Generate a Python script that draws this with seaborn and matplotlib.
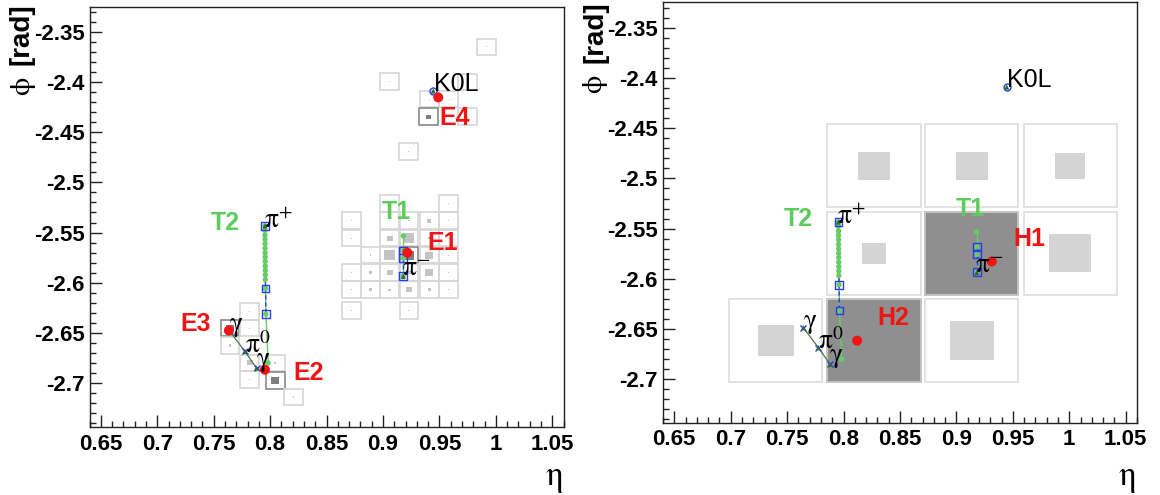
import numpy as np
import pandas as pd
import matplotlib
matplotlib.use("Agg")
import matplotlib.pyplot as plt
from matplotlib.patches import Rectangle
from matplotlib.ticker import MultipleLocator, FuncFormatter
import seaborn as sns

# ---------------- data ----------------
# ECAL cells (left panel): centre eta, centre phi, inner-square side (energy), seed flag
ecal_eta = [0.906, 0.958,
            0.872, 0.906, 0.923, 0.941, 0.958,
            0.872, 0.906, 0.923, 0.941, 0.958,
            0.889, 0.906, 0.923, 0.941, 0.958,
            0.872, 0.889, 0.906, 0.923, 0.941, 0.958,
            0.872, 0.889, 0.906, 0.923, 0.941, 0.958,
            0.872, 0.923,
            0.9916, 0.906, 0.9748, 0.9411, 0.9579, 0.9405, 0.9748, 0.9225,
            0.782, 0.7644, 0.782, 0.7644, 0.782, 0.8045, 0.782, 0.8045, 0.8205]
ecal_phi = [-2.521, -2.521,
            -2.538, -2.538, -2.538, -2.538, -2.538,
            -2.5555, -2.5555, -2.5555, -2.5555, -2.5555,
            -2.5725, -2.5725, -2.5725, -2.5725, -2.5725,
            -2.590, -2.590, -2.590, -2.590, -2.590, -2.590,
            -2.607, -2.607, -2.607, -2.607, -2.607, -2.607,
            -2.628, -2.628,
            -2.365, -2.3997, -2.400, -2.417, -2.417, -2.4346, -2.4346, -2.469,
            -2.6285, -2.6452, -2.6452, -2.6625, -2.680, -2.680, -2.6966, -2.6973, -2.7139]
ecal_e = [0.001, 0.001,
          0.001, 0.001, 0.0014, 0.004, 0.001,
          0.001, 0.005, 0.0095, 0.002, 0.001,
          0.0014, 0.0095, 0.009, 0.007, 0.001,
          0.001, 0.0028, 0.0055, 0.003, 0.007, 0.001,
          0.001, 0.0028, 0.0022, 0.005, 0.0028, 0.001,
          0.001, 0.001,
          0.001, 0.001, 0.001, 0.001, 0.001, 0.0038, 0.001, 0.001,
          0.001, 0.0065, 0.001, 0.0022, 0.005, 0.0014, 0.001, 0.007, 0.001]
ecal_seed = [0, 0,
             0, 0, 0, 0, 0,
             0, 0, 0, 0, 0,
             0, 0, 1, 0, 0,
             0, 0, 0, 0, 0, 0,
             0, 0, 0, 0, 0, 0,
             0, 0,
             0, 0, 0, 0, 0, 1, 0, 0,
             0, 1, 0, 0, 0, 0, 0, 1, 0]

# HCAL cells (right panel)
hcal_eta = [0.827, 0.9137, 1.0007, 0.827, 0.9137, 1.0007, 0.740, 0.827, 0.9137]
hcal_phi = [-2.4875, -2.4875, -2.4875, -2.5745, -2.5745, -2.5745, -2.6615, -2.6615, -2.6615]
hcal_e = [0.0286, 0.0286, 0.0266, 0.0207, 0.0825, 0.0378, 0.0315, 0.0825, 0.0388]
hcal_seed = [0, 0, 0, 0, 1, 0, 0, 1, 0]

# tracks: green points and blue (dashed) points
t2_green_eta = [0.7954, 0.7955, 0.7955, 0.7955, 0.7956, 0.7956, 0.7956, 0.7957, 0.7957,
                0.7957, 0.7958, 0.7958, 0.7958, 0.7960, 0.7963, 0.7983]
t2_green_phi = [-2.5434, -2.5477, -2.5524, -2.5567, -2.5611, -2.5657, -2.5701, -2.5744,
                -2.5787, -2.5834, -2.5877, -2.5921, -2.5967, -2.6058, -2.6313, -2.6800]
t2_blue_eta = [0.7954, 0.7960, 0.7963]
t2_blue_phi = [-2.5434, -2.6058, -2.6313]
t1_green_eta = [0.918, 0.918, 0.918, 0.918]
t1_green_phi = [-2.5533, -2.5680, -2.5755, -2.5932]
t1_blue_eta = [0.918, 0.918, 0.918]
t1_blue_phi = [-2.5680, -2.5755, -2.5932]

# clusters
ecal_clu_eta = [0.9216, 0.7954, 0.7635, 0.9490]
ecal_clu_phi = [-2.5700, -2.6867, -2.6476, -2.4153]
ecal_lab = ["E1", "E2", "E3", "E4"]
ecal_lab_eta = [0.9395, 0.8208, 0.7202, 0.9503]
ecal_lab_phi = [-2.5600, -2.6904, -2.6410, -2.4355]
hcal_clu_eta = [0.9313, 0.8120]
hcal_clu_phi = [-2.5827, -2.6615]
hcal_lab = ["H1", "H2"]
hcal_lab_eta = [0.9508, 0.8303]
hcal_lab_phi = [-2.5606, -2.6394]
trk_lab = ["T1", "T2"]
trk_lab_eta = [0.8990, 0.7470]
trk_lab_phi = [-2.5300, -2.5405]

# true particles
part_name = [r"$\mathrm{\pi}^{+}$", r"$\mathrm{\pi}^{-}$", "K0L", r"$\mathrm{\pi}^{0}$",
             r"$\mathrm{\gamma}$", r"$\mathrm{\gamma}$"]
part_eta = [0.7954, 0.9180, 0.9446, 0.7777, 0.7644, 0.7880]
part_phi = [-2.5434, -2.5938, -2.4090, -2.6685, -2.6486, -2.6850]
part_lab_eta = [0.7945, 0.9166, 0.9452, 0.7777, 0.7638, 0.7874]
part_lab_phi = [-2.5457, -2.5938, -2.4087, -2.6700, -2.6486, -2.6827]
# decay lines pi0 -> gamma gamma
dec_eta = [0.7644, 0.7777, 0.7880]
dec_phi = [-2.6486, -2.6685, -2.6850]

# ---------------- style ----------------
sns.set_theme(style="white")
plt.rcParams["font.family"] = ["Liberation Sans", "DejaVu Sans"]
plt.rcParams["mathtext.fontset"] = "stix"
plt.rcParams["font.weight"] = "normal"
plt.rcParams["text.color"] = "black"

RED = "#f01414"
GREEN_TXT = "#5ccc5c"
GREEN = "#66cc66"
BLUE = "#2a3cf0"
DKGREEN = "#2f6b2f"

fig = plt.figure(figsize=(11.6, 4.95), dpi=100)
W, H = 1160.0, 495.0
ax1 = fig.add_axes([89.5 / W, (H - 426.7) / H, 474 / W, 419.4 / H])
ax2 = fig.add_axes([663 / W, (H - 422.5) / H, 474 / W, 420.8 / H])

fmt = FuncFormatter(lambda v, p: f"{round(v, 3):g}")


def style_axes(ax, ylim):
    ax.set_xlim(0.64, 1.06)
    ax.set_ylim(*ylim)
    ax.xaxis.set_major_locator(MultipleLocator(0.05))
    ax.xaxis.set_minor_locator(MultipleLocator(0.01))
    ax.yaxis.set_major_locator(MultipleLocator(0.05))
    ax.yaxis.set_minor_locator(MultipleLocator(0.01))
    ax.xaxis.set_major_formatter(fmt)
    ax.yaxis.set_major_formatter(fmt)
    ax.tick_params(which="both", direction="in", top=False, right=False,
                   bottom=True, left=True, color="#222222", width=1, labelcolor="black")
    ax.tick_params(which="major", length=8.6, labelsize=16)
    ax.tick_params(which="minor", length=4.3)
    ax.tick_params(axis="x", which="major", pad=5)
    ax.tick_params(axis="y", which="major", pad=3.6)
    for s in ax.spines.values():
        s.set_color("#222222")
        s.set_linewidth(1.0)
    ax.set_xlabel("")
    ax.set_ylabel("")


def draw_cells(ax, eta, phi, e, seed, size, edge, edge_seed, lw, inner, inner_seed, full_fill):
    for x, y, en, sd in zip(eta, phi, e, seed):
        if full_fill and sd:
            ax.add_patch(Rectangle((x - size / 2, y - size / 2), size, size,
                                   facecolor=inner_seed, edgecolor=edge_seed, lw=lw, zorder=1))
            continue
        ax.add_patch(Rectangle((x - size / 2, y - size / 2), size, size, facecolor="none",
                               edgecolor=edge_seed if sd else edge, lw=lw, zorder=1))
        ax.add_patch(Rectangle((x - en / 2, y - en / 2), en, en, facecolor=inner_seed if sd else inner,
                               edgecolor="none", zorder=1.5))


def draw_common(ax):
    # tracks
    sns.lineplot(x=t2_green_eta, y=t2_green_phi, sort=False, estimator=None, ax=ax,
                 color=GREEN, lw=1.0, zorder=3)
    sns.lineplot(x=t1_green_eta, y=t1_green_phi, sort=False, estimator=None, ax=ax,
                 color=GREEN, lw=1.0, zorder=3)
    sns.lineplot(x=t2_blue_eta, y=t2_blue_phi, sort=False, estimator=None, ax=ax,
                 color=BLUE, lw=1.0, ls=(0, (3, 2)), zorder=3.2)
    sns.lineplot(x=t1_blue_eta, y=t1_blue_phi, sort=False, estimator=None, ax=ax,
                 color=BLUE, lw=1.0, ls=(0, (3, 2)), zorder=3.2)
    sns.scatterplot(x=t2_green_eta + t1_green_eta, y=t2_green_phi + t1_green_phi, ax=ax,
                    color=GREEN, s=15, edgecolor="none", zorder=3.5, legend=False)
    sns.scatterplot(x=t2_blue_eta + t1_blue_eta, y=t2_blue_phi + t1_blue_phi, ax=ax,
                    marker="s", s=30, color=BLUE, facecolor="none", edgecolor=BLUE,
                    linewidth=1.0, zorder=3.6, legend=False)
    # decay lines
    sns.lineplot(x=dec_eta, y=dec_phi, sort=False, estimator=None, ax=ax,
                 color="#4a7a4a", lw=0.9, zorder=3)
    # particles
    ax.plot(part_eta[2], part_phi[2], marker="o", ms=5, mfc="none", mec=BLUE, mew=1.0,
            ls="none", zorder=4)
    ax.plot(part_eta[3:], part_phi[3:], marker="x", ms=4.5, mec=BLUE, mew=1.0,
            ls="none", zorder=4)
    sns.scatterplot(x=part_eta, y=part_phi, ax=ax, marker="^", s=14, color=DKGREEN,
                    edgecolor="none", zorder=4.2, legend=False)
    for name, x, y in zip(part_name, part_lab_eta, part_lab_phi):
        if name == "K0L":
            ax.text(x, y, name, fontsize=18, fontweight="normal", color="black",
                    ha="left", va="baseline", zorder=6)
        else:
            ax.text(x, y, name, fontsize=20, fontweight="normal", color="black",
                    ha="left", va="baseline", zorder=6)
    for name, x, y in zip(trk_lab, trk_lab_eta, trk_lab_phi):
        ax.text(x, y, name, fontsize=18, fontweight="bold", color=GREEN_TXT,
                ha="left", va="center", zorder=6)


# ---------------- left panel ----------------
style_axes(ax1, (-2.7435, -2.3255))
draw_cells(ax1, ecal_eta, ecal_phi, ecal_e, ecal_seed, 0.0166,
           "#d6d6d6", "#8a8a8a", 1.2, "#c4c4c4", "#7e7e7e", False)
draw_common(ax1)
sns.scatterplot(x=ecal_clu_eta, y=ecal_clu_phi, ax=ax1, color=RED, s=52,
                edgecolor="none", zorder=5, legend=False)
for name, x, y in zip(ecal_lab, ecal_lab_eta, ecal_lab_phi):
    ax1.text(x, y, name, fontsize=18, fontweight="bold", color=RED, ha="left", va="center", zorder=6)

# ---------------- right panel ----------------
style_axes(ax2, (-2.743, -2.324))
draw_cells(ax2, hcal_eta, hcal_phi, hcal_e, hcal_seed, 0.0825,
           "#e2e2e2", "#c4c4c4", 1.4, "#d4d4d4", "#8f8f8f", True)
draw_common(ax2)
sns.scatterplot(x=hcal_clu_eta, y=hcal_clu_phi, ax=ax2, color=RED, s=52,
                edgecolor="none", zorder=5, legend=False)
for name, x, y in zip(hcal_lab, hcal_lab_eta, hcal_lab_phi):
    ax2.text(x, y, name, fontsize=18, fontweight="bold", color=RED, ha="left", va="center", zorder=6)

for ax in (ax1, ax2):
    ax.set_xlabel("")
    ax.set_ylabel("")

# axis titles: bold "[rad]" and regular upright phi below it
for xc, yt in ((22, 3), (595, 1)):
    fig.text(xc / W, (H - yt) / H, "[rad]", rotation=90, fontsize=20,
             fontweight="bold", ha="center", va="top", color="black")
    fig.text((xc + 1) / W, (H - yt - 74) / H, r"$\mathrm{\phi}$", rotation=90, fontsize=21,
             fontweight="normal", ha="center", va="top", color="black")
for xr in (563, 1136):
    fig.text(xr / W, (H - 485) / H, r"$\mathrm{\eta}$", fontsize=25, fontweight="normal",
             ha="right", va="baseline", color="black")

# bold tick labels
fig.canvas.draw()
for ax in (ax1, ax2):
    for lab in ax.get_xticklabels() + ax.get_yticklabels():
        lab.set_fontweight("bold")
        lab.set_color("black")

fig.savefig("out.png", dpi=100)
